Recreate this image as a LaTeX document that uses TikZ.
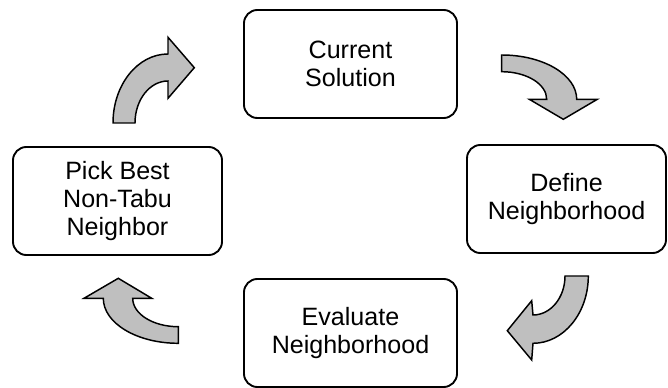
\documentclass[tikz,border=0pt]{standalone}
\usepackage{fontspec}
\setmainfont{Liberation Sans}
\begin{document}
\begin{tikzpicture}[x=0.75pt,y=0.75pt,
  stepbox/.style={draw=black, line width=1.4pt, rounded corners=10pt, fill=white,
    minimum width=213*0.75pt, minimum height=108*0.75pt, align=center,
    font=\fontsize{18.8}{21}\selectfont, inner sep=0pt},
  cyclearrow/.style={draw=black, line width=1.1pt, fill=black!25, line join=miter}]
\useasboundingbox (0,0) rectangle (668,-388);
\clip (0,0) rectangle (668,-388);
\node[stepbox] (cur)  at (350.5,-64)  {Current\\Solution};
\node[stepbox, minimum width=199*0.75pt] (def)  at (566.5,-199) {Define\\Neighborhood};
\node[stepbox] (eva)  at (350.5,-333) {Evaluate\\Neighborhood};
\node[stepbox, minimum width=209*0.75pt] (pick) at (117.5,-201) {Pick Best\\Non-Tabu\\Neighbor};
% upper-right arrow
\draw[cyclearrow] (501.7,-55) arc[start angle=90, end angle=0, x radius=75, y radius=44.3]
  -- (597.3,-99.3) -- (563.3,-119.3) -- (529.3,-99.3) -- (546.7,-99.3)
  arc[start angle=0, end angle=90, x radius=45, y radius=27.6] -- cycle;
% lower-right arrow
\draw[cyclearrow] (588.3,-276) arc[start angle=0, end angle=-90, x radius=55.3, y radius=67.3]
  -- (531.7,-360) -- (507.3,-330.7) -- (531.7,-300.7) -- (533,-315)
  arc[start angle=-90, end angle=0, x radius=32, y radius=39] -- cycle;
% lower-left arrow
\draw[cyclearrow] (103.3,-298.3) arc[start angle=180, end angle=270, x radius=75, y radius=45]
  -- (178.3,-326.7) arc[start angle=270, end angle=180, x radius=45.6, y radius=28.4]
  -- (151.7,-298.3) -- (118.3,-278.3) -- (84,-298.3) -- cycle;
% upper-left arrow
\draw[cyclearrow] (113,-123) arc[start angle=180, end angle=90, x radius=55, y radius=69]
  -- (168,-37.3) -- (194.3,-67.7) -- (168,-98.3) -- (168,-81)
  arc[start angle=90, end angle=180, x radius=33, y radius=42] -- cycle;
\end{tikzpicture}
\end{document}
